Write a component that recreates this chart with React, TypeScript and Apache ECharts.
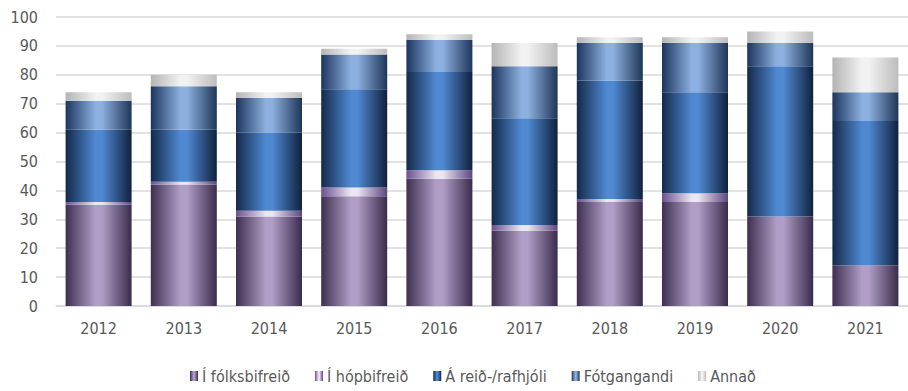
import React, { useEffect, useRef } from "react";
import * as echarts from "echarts";

const years = ["2012", "2013", "2014", "2015", "2016", "2017", "2018", "2019", "2020", "2021"];
const seriesNames = ["Í fólksbifreið", "Í hópbifreið", "Á reið-/rafhjóli", "Fótgangandi", "Annað"];
const folksbifreid = [35, 42, 31, 38, 44, 26, 36, 36, 31, 14];
const hopbifreid = [1, 1, 2, 3, 3, 2, 1, 3, 0, 0];
const reidhjol = [25, 18, 27, 34, 34, 37, 41, 35, 52, 50];
const fotgangandi = [10, 15, 12, 12, 11, 18, 13, 17, 8, 10];
const annad = [3, 4, 2, 2, 2, 8, 2, 2, 4, 12];

const seriesData = [folksbifreid, hopbifreid, reidhjol, fotgangandi, annad];
const gradients: [string, string, string][] = [
  ["#3e2f50", "#b09ec6", "#3a2b4b"],
  ["#6a5090", "#ece6f2", "#5d4680"],
  ["#14294a", "#4f89d1", "#10213d"],
  ["#1c355e", "#8db0e0", "#1e3658"],
  ["#b4b4b4", "#f2f2f2", "#bcbcbc"],
];

const FONT = '"Liberation Sans Narrow", "Arial Narrow", "DejaVu Sans Condensed", sans-serif';

export default function App() {
  const ref = useRef<HTMLDivElement>(null);
  useEffect(() => {
    document.body.style.margin = "0";
    if (!ref.current) return;
    const chart = echarts.init(ref.current, undefined, { renderer: "svg" });
    chart.setOption({
      animation: false,
      grid: { left: 56, right: -11, top: 17, bottom: 85, containLabel: false },
      legend: {
        bottom: 2,
        left: 185,
        itemWidth: 8,
        itemHeight: 10,
        itemGap: 25,
        icon: "rect",
        textStyle: { fontFamily: FONT, fontSize: 16, color: "#595959", padding: [0, 0, 0, -1] },
        data: seriesNames,
      },
      xAxis: {
        type: "category",
        data: years,
        axisLine: { lineStyle: { color: "#d9d9d9", width: 1.5 } },
        axisTick: { show: false },
        axisLabel: { fontFamily: FONT, fontSize: 16, color: "#595959", margin: 14 },
      },
      yAxis: {
        type: "value",
        min: 0,
        max: 100,
        interval: 10,
        axisLine: { show: false },
        axisTick: { show: false },
        splitLine: { lineStyle: { color: "#d9d9d9", width: 1.5 } },
        axisLabel: { fontFamily: FONT, fontSize: 16, color: "#595959", margin: 18 },
      },
      series: seriesNames.map((name, i) => ({
        name,
        type: "bar",
        stack: "total",
        barWidth: 66,
        data: seriesData[i],
        itemStyle: {
          color: {
            type: "linear",
            x: 0,
            y: 0,
            x2: 1,
            y2: 0,
            colorStops: [
              { offset: 0, color: gradients[i][0] },
              { offset: 0.45, color: gradients[i][1] },
              { offset: 0.55, color: gradients[i][1] },
              { offset: 1, color: gradients[i][2] },
            ],
          },
        },
      })),
    });
    return () => chart.dispose();
  }, []);
  return <div ref={ref} style={{ width: 908, height: 391 }} />;
}
